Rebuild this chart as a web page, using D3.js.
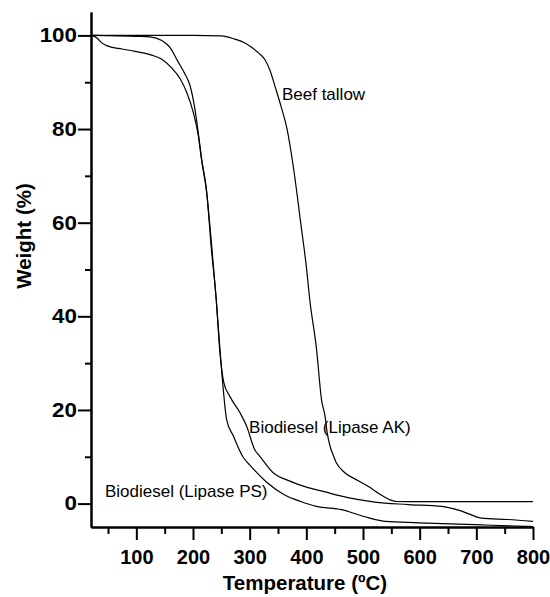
<!DOCTYPE html>
<html>
<head>
<meta charset="utf-8">
<script src="https://cdn.jsdelivr.net/npm/d3@7"></script>
<style>
    body { margin: 0; background: #fff; }
    text { font-family: "Liberation Sans", Arial, sans-serif; }
</style>
</head>
<body>
<div id="chart"></div>
<script>
// TGA curves
var beefT = [20, 100, 200, 250, 274, 290, 304, 318, 327, 336, 345, 355, 366, 377, 390, 400, 406, 418, 427, 433, 437, 442, 447, 453, 468, 490, 509, 530, 548, 560, 600, 700, 800];
var beefW = [100, 100, 100, 99.9, 99.2, 98.5, 97.4, 96, 94.8, 92.5, 89, 85, 80, 72, 60, 50.6, 43.6, 33, 22, 18.7, 15, 12.2, 10.5, 8.7, 6.6, 5, 3.7, 2, 0.8, 0.45, 0.4, 0.4, 0.4];

var akT = [20, 100, 124, 145, 159, 173, 186, 194.7, 203.5, 209.5, 215, 224, 232, 241, 247, 254.5, 265, 283, 294.7, 309, 318, 341.5, 371, 403, 430, 462, 490, 521, 580, 639, 674, 709, 756, 800];
var akW = [100, 99.8, 99.7, 98.9, 97.5, 94.5, 91.7, 89.3, 84.2, 79, 73.8, 66.8, 55, 43.6, 33, 25.8, 22.9, 19.4, 16.5, 11.5, 10.1, 6.6, 4.8, 3.4, 2.6, 1.6, 0.9, 0.3, -0.2, -0.6, -1.6, -3.1, -3.4, -3.8];

var psT = [20, 30, 39, 50, 75, 98, 127, 145, 162, 177, 189, 200.6, 209.5, 215, 224, 233, 241, 247.6, 253.4, 259.4, 271, 288, 302, 331.6, 361, 389, 418, 462, 500, 539, 598, 697, 786, 800];
var psW = [100, 99.5, 98.4, 97.7, 97.1, 96.6, 95.8, 94.9, 93.1, 90.8, 87.8, 83.5, 78.5, 73.5, 66.5, 55, 43.6, 32.9, 24.4, 17.9, 14.5, 10, 8, 4.4, 1.9, 0.5, -0.6, -1.3, -2.7, -3.8, -4.1, -4.5, -4.85, -4.9];

var xMajor = [100, 200, 300, 400, 500, 600, 700, 800];
var xMinor = [50, 150, 250, 350, 450, 550, 650, 750];
var yMajor = [0, 20, 40, 60, 80, 100];
var yMinor = [10, 30, 50, 70, 90];

var labelNames = ["Beef tallow", "Biodiesel (Lipase AK)", "Biodiesel (Lipase PS)"];
var labelT = [357, 299, 44.7];
var labelW = [86.3, 15, 1.5];

(function() {
    var width = 550,
        height = 597;

    var svg = d3.select("#chart").append("svg")
        .attr("width", width)
        .attr("height", height);

    var x = d3.scaleLinear().domain([20, 800]).range([91, 533]);
    var y = d3.scaleLinear().domain([-5, 105]).range([527, 12]);

    var zip = function(ts, ws) {
        return ts.map(function(t, i) { return [t, ws[i]]; });
    };

    var line = d3.line()
        .x(function(d) { return x(d[0]); })
        .y(function(d) { return y(d[1]); })
        .curve(d3.curveMonotoneX);

    [zip(beefT, beefW), zip(akT, akW), zip(psT, psW)].forEach(function(s) {
        svg.append("path")
            .datum(s)
            .attr("fill", "none")
            .attr("stroke", "#000")
            .attr("stroke-width", 1.2)
            .attr("d", line);
    });

    // minor ticks first, then the major axis with labels
    svg.append("g")
        .attr("transform", "translate(0," + y(-5) + ")")
        .call(d3.axisBottom(x).tickValues(xMinor).tickSize(7).tickSizeOuter(0).tickFormat(""));
    svg.append("g")
        .attr("class", "xAxis")
        .attr("transform", "translate(0," + y(-5) + ")")
        .call(d3.axisBottom(x).tickValues(xMajor).tickSize(13).tickSizeOuter(0).tickPadding(10));

    svg.append("g")
        .attr("transform", "translate(" + x(20) + ",0)")
        .call(d3.axisLeft(y).tickValues(yMinor).tickSize(6).tickSizeOuter(0).tickFormat(""));
    svg.append("g")
        .attr("class", "yAxis")
        .attr("transform", "translate(" + x(20) + ",0)")
        .call(d3.axisLeft(y).tickValues(yMajor).tickSize(13).tickSizeOuter(0).tickPadding(1));

    svg.selectAll(".domain, .tick line")
        .attr("stroke", "#000")
        .attr("stroke-width", 2);

    svg.selectAll(".tick text")
        .attr("fill", "#000")
        .style("font-family", "'Liberation Sans', Arial, sans-serif")
        .style("font-size", "20px")
        .style("font-weight", "bold");

    // y labels in the figure are drawn a bit wider
    svg.selectAll(".yAxis .tick text")
        .attr("x", -14 / 1.12)
        .attr("transform", "scale(1.12,1)");

    svg.append("text")
        .attr("x", 305)
        .attr("y", 590)
        .attr("text-anchor", "middle")
        .style("font-size", "20.5px")
        .style("font-weight", "bold")
        .text("Temperature (\u00baC)");

    svg.append("text")
        .attr("transform", "translate(31,236) rotate(-90)")
        .attr("text-anchor", "middle")
        .style("font-size", "20.5px")
        .style("font-weight", "bold")
        .text("Weight (%)");

    svg.selectAll(".curveLabel")
        .data(labelNames)
        .enter()
        .append("text")
        .attr("class", "curveLabel")
        .attr("x", function(d, i) { return x(labelT[i]); })
        .attr("y", function(d, i) { return y(labelW[i]); })
        .style("font-size", "17px")
        .text(function(d) { return d; });
})();
</script>
</body>
</html>
